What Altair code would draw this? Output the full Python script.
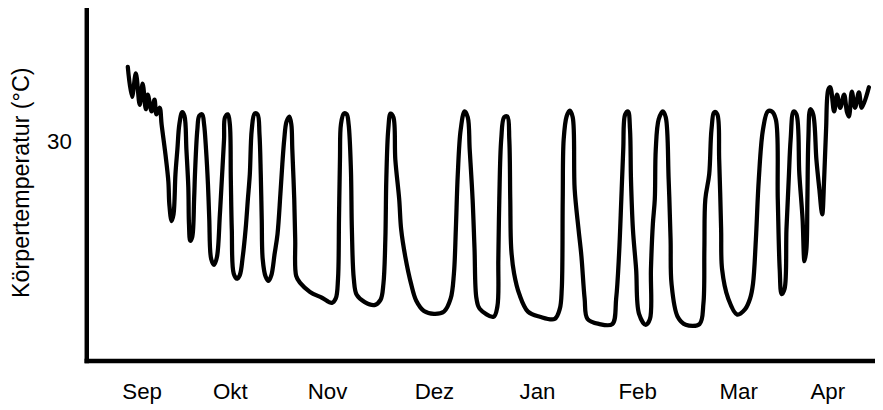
import altair as alt
import pandas as pd

# Days since 1 Sep (approx.)
day = [
    12.9, 14.2, 15.4, 16.6, 17.5, 18.5, 19.1, 20.3, 21.2, 21.8, 22.8,
    23.4, 24.6, 25.5, 25.8, 26.5, 27.1, 27.7, 28.3, 28.9, 29.8,
    30.5, 31.1, 31.7, 31.9, 32.3, 32.9, 33.5, 33.8, 34.5, 35.1, 36.0,
    36.6, 37.2, 37.8, 38.2, 38.8, 39.7, 40.6, 41.5, 42.2, 42.8, 43.1, 44.0,
    44.6, 44.9, 45.2, 45.8, 46.8, 47.7, 48.6, 49.5, 50.2, 50.8, 51.4, 52.3, 53.2,
    53.8, 54.2, 54.5, 54.8, 55.7, 56.6, 57.5, 58.5, 59.4, 60.3, 60.9, 61.5, 62.2, 63.1,
    63.7, 64.0, 64.6, 64.9, 65.2, 66.5, 69.5, 73.2, 76.3, 77.5, 78.2, 78.5, 78.8, 79.1, 80.0,
    80.9, 81.5, 82.2, 82.5, 83.1, 84.0, 86.5, 89.5, 91.4, 92.3, 92.9, 93.2, 93.8, 94.5,
    95.4, 96.0, 97.2, 97.8, 99.1, 100.9, 102.5, 104.9, 108.0, 111.1, 113.2, 114.2, 114.8, 115.4, 116.3, 117.5,
    118.5, 119.1, 120.0, 120.6, 121.2, 122.2, 126.5, 127.7, 128.0, 128.3, 128.9, 129.8, 130.8,
    131.4, 131.7, 132.0, 132.9, 134.5, 137.2, 140.9, 145.5, 147.1, 147.7, 148.0, 148.3, 149.2, 150.2,
    151.1, 151.7, 152.9, 153.8, 154.8, 155.7, 159.4, 163.4, 164.6, 165.5, 166.2, 166.8, 167.4, 168.3,
    168.9, 169.2, 169.8, 170.8, 171.7, 173.8, 175.1, 175.4, 176.0, 176.6, 176.9, 177.8, 179.1,
    180.0, 180.9, 181.5, 181.8, 183.7, 186.2, 190.5, 191.7, 192.0, 192.3, 193.5, 194.2, 195.1,
    196.0, 196.6, 197.2, 197.5, 199.4, 202.2, 204.6, 206.2, 207.1, 208.0, 208.9, 210.2, 211.7, 212.9,
    214.2, 214.8, 215.4, 216.0, 216.9, 217.5, 218.2, 218.8, 219.7,
    220.6, 221.5, 222.5, 223.1, 223.7, 224.0, 224.3, 224.9,
    225.8, 226.8, 227.7, 228.6, 229.2, 229.8, 230.5,
    231.1, 232.3, 233.2, 234.2, 235.4, 236.3, 236.9, 237.8, 238.8, 240.0, 240.9, 243.1,
]

# Body temperature (°C)
temp = [
    40.2, 36.1, 39.3, 35.0, 37.9, 34.4, 36.4, 34.1, 35.7, 33.7, 34.6,
    32.3, 28.2, 24.5, 21.4, 19.1, 20.0, 25.5, 28.9, 32.3, 34.0,
    33.5, 28.9, 23.7, 18.7, 16.4, 16.9, 22.1, 25.9, 31.6, 33.5, 33.7,
    32.3, 28.9, 24.1, 19.4, 13.9, 13.1, 14.2, 20.0, 25.5, 30.3, 33.3, 33.7,
    32.3, 24.8, 18.0, 11.9, 11.2, 11.7, 14.2, 18.0, 22.1, 25.5, 31.6, 33.8, 33.7,
    31.0, 25.5, 19.4, 13.9, 11.5, 10.9, 11.7, 14.6, 17.3, 22.8, 26.9, 30.3, 32.7, 33.4,
    32.3, 28.9, 22.1, 16.6, 11.6, 10.6, 9.4, 8.6, 7.9, 8.5, 11.2, 19.4, 27.5, 32.3, 33.8,
    33.7, 32.3, 26.2, 18.0, 11.2, 9.0, 8.0, 7.6, 8.3, 10.5, 16.6, 24.8, 31.6, 33.8,
    33.3, 27.5, 22.1, 18.0, 14.2, 10.5, 8.2, 6.8, 6.4, 6.7, 8.5, 11.9, 18.0, 25.5, 31.6, 34.1,
    33.3, 28.9, 22.1, 15.3, 8.5, 7.1, 6.0, 7.4, 13.9, 22.1, 30.3, 33.3, 33.4,
    30.3, 22.1, 15.3, 11.9, 9.1, 6.7, 6.0, 5.7, 7.1, 9.8, 22.1, 30.3, 33.4, 34.2,
    33.3, 23.5, 18.0, 14.3, 8.5, 5.7, 5.0, 5.0, 8.5, 14.6, 22.1, 28.9, 33.7, 34.1,
    31.6, 24.8, 18.0, 12.5, 6.4, 4.9, 5.7, 12.5, 18.7, 22.1, 28.9, 33.0, 34.1,
    33.3, 24.8, 16.6, 10.5, 6.0, 4.9, 5.0, 7.8, 15.3, 22.1, 25.5, 31.6, 34.0,
    33.7, 27.5, 18.0, 12.5, 8.5, 6.3, 7.0, 8.5, 10.5, 16.6, 24.8, 31.6, 34.1, 34.1,
    33.0, 22.1, 12.5, 9.1, 9.8, 18.0, 24.8, 30.3, 34.1,
    33.7, 25.5, 19.4, 13.6, 15.3, 22.1, 30.3, 34.4,
    33.7, 27.5, 23.5, 20.0, 24.8, 31.6, 37.1,
    37.4, 34.1, 36.4, 34.6, 36.4, 34.0, 33.4, 36.8, 34.6, 36.7, 34.6, 37.4,
]

# Month labels and where they sit on the day axis
months = ["Sep", "Okt", "Nov", "Dez", "Jan", "Feb", "Mar", "Apr"]
month_pos = [17.2, 44.6, 74.8, 108.0, 140.0, 171.1, 202.5, 230.2]

y_ticks = [30]

n = min(len(day), len(temp))
df = pd.DataFrame({"i": list(range(n)), "tag": day[:n], "temp": temp[:n]})

label_expr = " : ".join(
    [f"datum.value == {p} ? '{m}'" for p, m in zip(month_pos, months)]
) + " : ''"

FONT = "Liberation Sans"

chart = (
    alt.Chart(df)
    .mark_line(
        color="black",
        strokeWidth=4.3,
        strokeJoin="round",
        strokeCap="round",
        interpolate="catmull-rom",
    )
    .encode(
        x=alt.X(
            "tag:Q",
            scale=alt.Scale(domain=[0, 245], nice=False, zero=False),
            axis=alt.Axis(
                values=month_pos,
                labelExpr=label_expr,
                title=None,
                ticks=False,
                tickSize=0,
                grid=False,
                domainColor="black",
                domainWidth=4.5,
                domainCap="square",
                labelFontSize=22.5,
                labelFont=FONT,
                labelColor="black",
                labelPadding=20,
                labelFlush=False,
                labelOverlap=False,
            ),
        ),
        y=alt.Y(
            "temp:Q",
            scale=alt.Scale(domain=[0, 48], nice=False, zero=False),
            axis=alt.Axis(
                values=y_ticks,
                title="Körpertemperatur (°C)",
                titleFont=FONT,
                titleFontSize=23.5,
                titleFontWeight="normal",
                titleColor="black",
                titleAngle=270,
                titleAlign="center",
                titleBaseline="middle",
                titleX=-65,
                titleY=174,
                ticks=False,
                tickSize=0,
                grid=False,
                domainColor="black",
                domainWidth=4.5,
                domainCap="square",
                labelFontSize=22.5,
                labelFont=FONT,
                labelColor="black",
                labelPadding=15,
            ),
        ),
        order="i:Q",
    )
    .properties(
        width=796,
        height=354,
        autosize=alt.AutoSizeParams(type="none"),
        padding={"left": 79, "top": 0, "right": 0, "bottom": 46},
        view=alt.ViewBackground(stroke="white", strokeOpacity=0, strokeWidth=0),
    )
    .configure_view(stroke="white", strokeOpacity=0, strokeWidth=0)
    .configure_axis(grid=False)
    .configure(font=FONT)
)

chart.save("out.html", embed_options={"renderer": "svg", "actions": False})
